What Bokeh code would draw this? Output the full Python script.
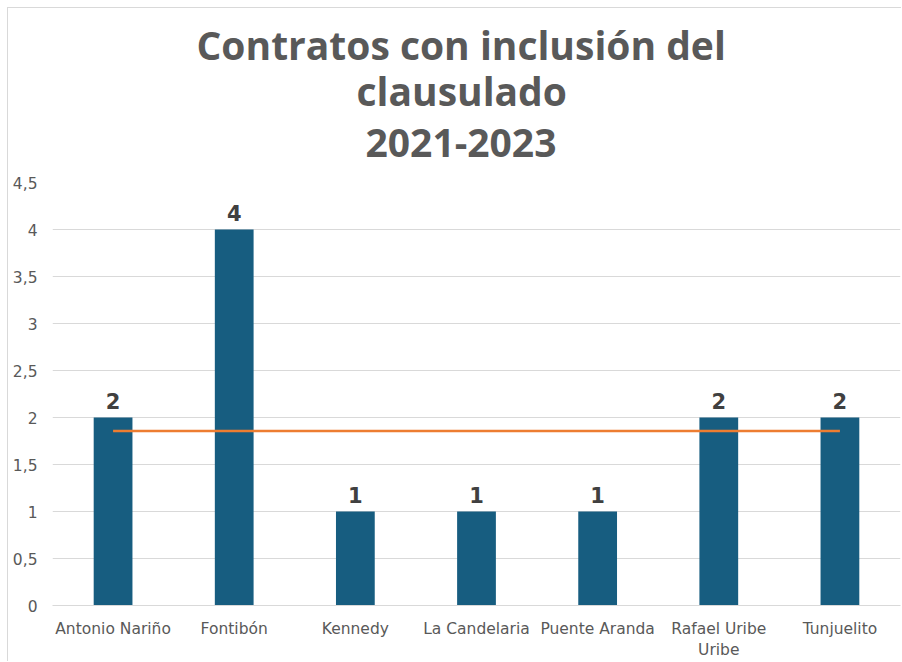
from bokeh.plotting import figure
from bokeh.models import Title, FixedTicker, FactorRange, Range1d, ColumnDataSource
from bokeh.core.properties import value
from bokeh.embed import file_html
from bokeh.resources import INLINE

# ---- data ----
categories = ["Antonio Nariño", "Fontibón", "Kennedy", "La Candelaria",
              "Puente Aranda", "Rafael Uribe Uribe", "Tunjuelito"]
contratos = [2, 4, 1, 1, 1, 2, 2]
promedio = 1.857
y_ticks = [0, 0.5, 1, 1.5, 2, 2.5, 3, 3.5, 4, 4.5]
y_tick_labels = ["0", "0,5", "1", "1,5", "2", "2,5", "3", "3,5", "4", "4,5"]
title_lines = ["Contratos con inclusión del", "clausulado", "2021-2023"]

BAR = "#175D80"
ORANGE = "#ED7D31"
GRID = "#D9D9D9"
TXT = "#595959"

# displayed factor names (long name wrapped onto two lines)
factors = [c.replace("Rafael Uribe Uribe", "Rafael Uribe\nUribe") for c in categories]

p = figure(width=894, height=654, output_backend="svg", toolbar_location=None,
           x_range=FactorRange(*factors, range_padding=0),
           y_range=Range1d(0, 4.5), title=None,
           min_border_left=44, min_border_right=2,
           min_border_top=174, min_border_bottom=53)
p.styles = {"margin-left": "7px", "margin-top": "7px",
            "border-left": "1px solid #D9D9D9", "border-top": "1px solid #D9D9D9"}
p.outline_line_color = None

# titles (added from nearest-to-frame outward); left offsets centre them on the chart
standoffs = [52, -32, 14]
offsets = [313, 304, 144]
for line, so, off in zip(reversed(title_lines), standoffs, offsets):
    p.add_layout(Title(text=line, align="left", text_font_size="39px",
                       text_font="Open Sans", text_font_style="bold",
                       offset=off, text_color=TXT, standoff=so), "above")

src = ColumnDataSource(dict(cat=factors, val=contratos,
                            lab=[str(v) for v in contratos]))
p.vbar(x="cat", top="val", width=0.32, source=src, color=BAR, line_color=None)
p.text(x="cat", y="val", text="lab", source=src, y_offset=-9,
       text_align="center", text_baseline="bottom",
       text_font=value("DejaVu Sans"), text_font_style="bold",
       text_font_size="21px", text_color="#404040")
p.line(x=[factors[0], factors[-1]], y=[promedio, promedio],
       line_color=ORANGE, line_width=2.5)

p.xgrid.grid_line_color = None
p.ygrid.grid_line_color = GRID
p.ygrid.ticker = FixedTicker(ticks=y_ticks)

p.yaxis.ticker = FixedTicker(ticks=y_ticks)
p.yaxis.major_label_overrides = {t: l for t, l in zip(y_ticks, y_tick_labels)}
p.yaxis.axis_line_color = None
p.yaxis.major_label_standoff = 15

p.xaxis.axis_line_color = GRID
p.xaxis.major_label_standoff = 14

for ax in (p.xaxis, p.yaxis):
    ax.major_tick_line_color = None
    ax.minor_tick_line_color = None
    ax.major_tick_out = 0
    ax.major_tick_in = 0
    ax.minor_tick_out = 0
    ax.major_label_text_font = "DejaVu Sans"
    ax.major_label_text_font_size = "15.5px"
    ax.major_label_text_color = TXT

open("out.html", "w").write(file_html(p, INLINE))
